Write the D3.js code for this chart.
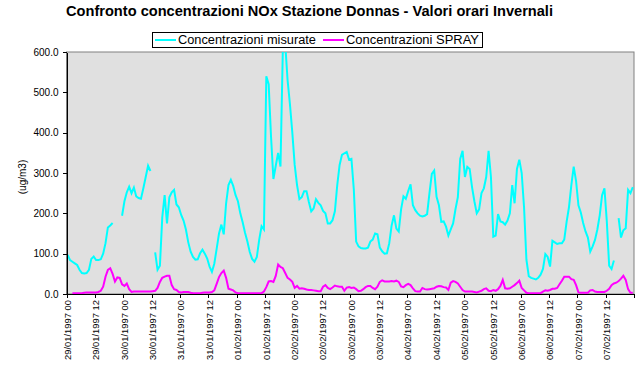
<!DOCTYPE html>
<html>
<head>
<meta charset="utf-8">
<script src="https://cdn.jsdelivr.net/npm/d3@7"></script>
<style>
  body { margin: 0; background: #fff; }
  svg { display: block; font-family: "Liberation Sans", Arial, sans-serif; }
  .axis text { font-size: 10px; fill: #000; }
  .axis path, .axis line { stroke: #000; shape-rendering: crispEdges; }
</style>
</head>
<body>
<div id="chart"></div>
<script>
// hourly values 29/01/1997 00 -> 07/02/1997 23, one row per half day
var misurate = [
  97, 84, 80, 76, 72, 60, 52, 51, 52, 60, 87, 93,
  84, 84, 86, 100, 126, 165, 170, 176, null, null, null, 194,
  230, 252, 266, 250, 264, 242, 238, 236, 262, 290, 318, 305,
  null, 103, 60, 70, 190, 245, 175, 240, 252, 258, 222, 215,
  196, 182, 160, 128, 105, 92, 85, 86, 101, 110, 100, 88,
  68, 55, 75, 112, 150, 172, 148, 225, 270, 283, 268, 245,
  230, 200, 178, 152, 130, 104, 87, 80, 92, 135, 168, 160,
  540, 520, 390, 285, 318, 350, 316, 610, 620, 530, 470, 400,
  320, 270, 235, 240, 255, 255, 228, 205, 212, 235, 226, 220,
  206, 200, 175, 175, 183, 205, 270, 320, 345, 349, 352, 333,
  335, 260, 130, 118, 114, 113, 113, 115, 130, 135, 150, 148,
  115, 106, 100, 101, 126, 170, 195, 162, 155, 210, 242, 236,
  255, 272, 220, 208, 200, 194, 192, 194, 198, 250, 298, 306,
  241, 220, 179, 180, 167, 145, 160, 175, 210, 240, 335, 355,
  290, 315, 310, 265, 230, 200, 210, 250, 262, 290, 355, 290,
  142, 145, 198, 180, 178, 172, 182, 200, 270, 225, 310, 333,
  300, 215, 85, 44, 40, 38, 36, 40, 48, 62, 99, 92,
  68, 132, 128, 124, 126, 126, 135, 179, 215, 270, 316, 280,
  220, 202, 176, 155, 140, 105, 118, 134, 160, 195, 245, 262,
  180, 70, 62, 83, null, 188, 140, 158, 163, 258, 250, 265
];

var spray = [
  null, null, 2, 2, 2, 2, 2, 3, 4, 4, 4, 4,
  4, 5, 8, 18, 43, 60, 64, 50, 31, 41, 40, 24,
  20, 26, 12, 5, 6, 6, 6, 6, 6, 6, 6, 6,
  7, 8, 15, 30, 40, 43, 45, 45, 22, 12, 10, 5,
  4, 5, 5, 5, 3, 2, 2, 2, 2, 3, 4, 4,
  4, 5, 9, 25, 42, 52, 58, 40, 13, 11, 9, 4,
  2, 2, 2, 2, 2, 2, 2, 2, 2, 2, 2, 6,
  17, 31, 32, 30, 45, 73, 67, 64, 52, 40, 36, 30,
  15, 20, 13, 14, 13, 11, 10, 10, 9, 8, 7, 7,
  18, 22, 15, 12, 16, 21, 19, 18, 18, 8, 16, 17,
  15, 16, 12, 7, 8, 12, 17, 20, 20, 15, 12, 18,
  30, 34, 31, 31, 31, 32, 31, 33, 30, 19, 17, 22,
  25, 22, 14, 7, 6, 6, 15, 12, 11, 12, 13, 14,
  18, 20, 19, 17, 16, 10, 28, 32, 30, 26, 18, 10,
  6, 6, 6, 6, 5, 4, 6, 8, 12, 14, 8, 7,
  10, 8, 12, 20, 35, 14, 13, 14, 18, 22, 27, 33,
  15, 9, 3, 2, 2, 2, 2, 2, 2, 6, 9, 8,
  10, 13, 13, 15, 24, 33, 43, 43, 43, 37, 35, 22,
  4, 3, 3, 3, 3, 9, 10, 6, 5, 5, 5, 5,
  8, 13, 22, 26, 28, 32, 38, 45, 35, 12, 3, 3
];

var tickLabels = [
  "29/01/1997 00", "29/01/1997 12", "30/01/1997 00", "30/01/1997 12",
  "31/01/1997 00", "31/01/1997 12", "01/02/1997 00", "01/02/1997 12",
  "02/02/1997 00", "02/02/1997 12", "03/02/1997 00", "03/02/1997 12",
  "04/02/1997 00", "04/02/1997 12", "05/02/1997 00", "05/02/1997 12",
  "06/02/1997 00", "06/02/1997 12", "07/02/1997 00", "07/02/1997 12"
];

var yTicks = [0, 100, 200, 300, 400, 500, 600];

var width = 644;
var height = 377;
var plotLeft = 66.5;
var plotRight = 634;
var plotTop = 52;
var plotBot = 294;

var svg = d3
    .select("#chart")
    .append("svg")
    .attr("width", width)
    .attr("height", height);

var x = d3.scaleLinear().domain([0, misurate.length]).range([plotLeft, plotRight]);
var y = d3.scaleLinear().domain([0, 600]).range([plotBot, plotTop]);

// plot area
svg.append("rect")
    .attr("x", plotLeft)
    .attr("y", plotTop)
    .attr("width", plotRight - plotLeft)
    .attr("height", plotBot - plotTop)
    .attr("fill", "#e0e0e0")
    .attr("stroke", "#808080")
    .attr("stroke-width", 1);

svg.append("clipPath")
    .attr("id", "clip")
    .append("rect")
    .attr("x", plotLeft)
    .attr("y", plotTop)
    .attr("width", plotRight - plotLeft)
    .attr("height", plotBot - plotTop);

var line = d3.line()
    .defined(function(d) { return d != null; })
    .x(function(d, i) { return x(i + 0.5); })
    .y(function(d) { return y(d); });

svg.append("path")
    .datum(misurate)
    .attr("clip-path", "url(#clip)")
    .attr("fill", "none")
    .attr("stroke", "#00ffff")
    .attr("stroke-width", 2)
    .attr("d", line);

svg.append("path")
    .datum(spray)
    .attr("clip-path", "url(#clip)")
    .attr("fill", "none")
    .attr("stroke", "#ff00ff")
    .attr("stroke-width", 2)
    .attr("d", line);

// axes
var yAxis = svg.append("g")
    .attr("class", "axis")
    .attr("transform", "translate(" + plotLeft + ",0)")
    .call(d3.axisLeft(y).tickValues(yTicks).tickFormat(d3.format(".1f")).tickSize(4).tickSizeOuter(0).tickPadding(4));

var xAxis = svg.append("g")
    .attr("class", "axis")
    .attr("transform", "translate(0," + plotBot + ")")
    .call(d3.axisBottom(x).tickValues(d3.range(0, misurate.length + 1, 12)).tickFormat("").tickSize(4).tickSizeOuter(0));

svg.append("g")
    .selectAll("text")
    .data(tickLabels)
    .enter()
    .append("text")
    .attr("transform", function(d, i) {
        return "translate(" + x(i * 12 + 0.5) + "," + (plotBot + 6) + ")rotate(-90)";
    })
    .attr("text-anchor", "end")
    .attr("dy", "0.35em")
    .style("font-size", "9.4px")
    .text(function(d) { return d; });

svg.append("text")
    .attr("transform", "translate(22,177)rotate(-90)")
    .attr("text-anchor", "middle")
    .attr("dy", "0.35em")
    .style("font-size", "10px")
    .text("(ug/m3)");

// title
svg.append("text")
    .attr("x", 66)
    .attr("y", 16)
    .attr("textLength", 487)
    .attr("lengthAdjust", "spacingAndGlyphs")
    .style("font-size", "14px")
    .style("font-weight", "bold")
    .text("Confronto concentrazioni NOx Stazione Donnas - Valori orari Invernali");

// legend
var legend = svg.append("g");
legend.append("rect")
    .attr("x", 152.5)
    .attr("y", 32.5)
    .attr("width", 330)
    .attr("height", 15)
    .attr("fill", "#fff")
    .attr("stroke", "#000");

var legendItems = [
    { name: "Concentrazioni misurate", color: "#00ffff", x0: 155, w: 138 },
    { name: "Concentrazioni SPRAY", color: "#ff00ff", x0: 323, w: 133 }
];

legendItems.forEach(function(d) {
    legend.append("line")
        .attr("x1", d.x0)
        .attr("x2", d.x0 + 21)
        .attr("y1", 40)
        .attr("y2", 40)
        .attr("stroke", d.color)
        .attr("stroke-width", 2);
    legend.append("text")
        .attr("x", d.x0 + 23)
        .attr("y", 40)
        .attr("dy", "0.35em")
        .attr("textLength", d.w)
        .attr("lengthAdjust", "spacingAndGlyphs")
        .style("font-size", "12.5px")
        .text(d.name);
});
</script>
</body>
</html>
